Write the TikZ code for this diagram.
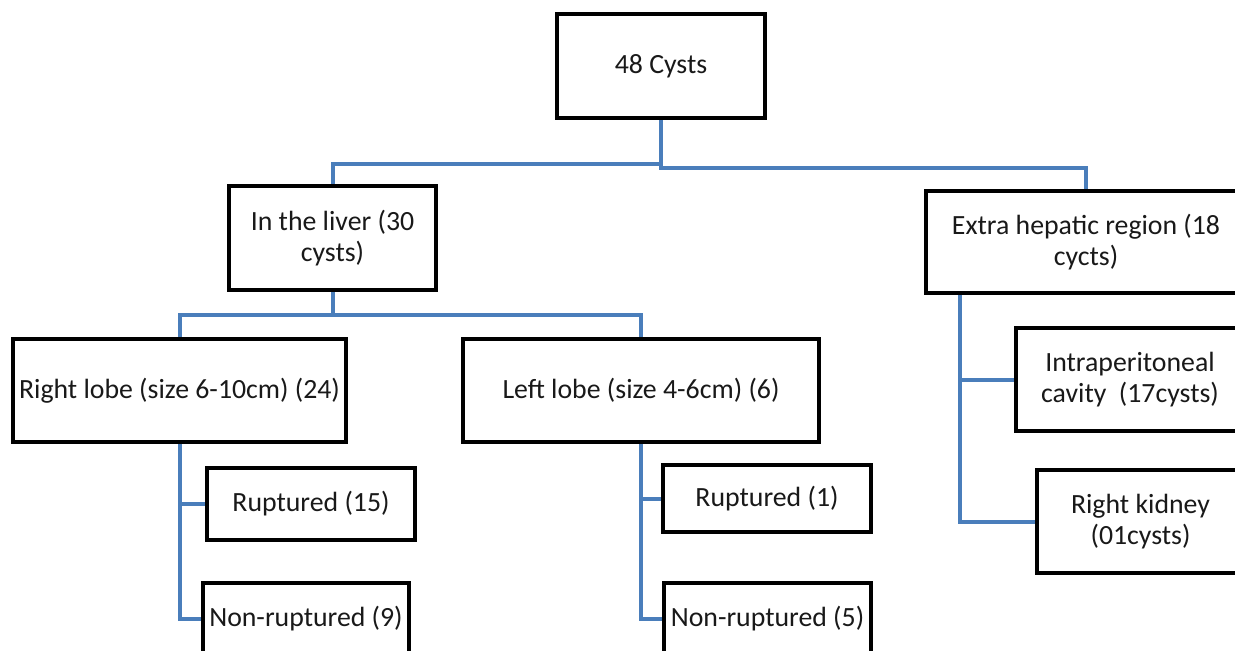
\documentclass[tikz,border=0pt]{standalone}
\usepackage{fontspec}
\setmainfont{Carlito}
\usetikzlibrary{backgrounds}
\definecolor{connblue}{HTML}{4A7EBB}
\begin{document}
\begin{tikzpicture}[x=0.5pt,y=-0.5pt,
  box/.style={draw=black,line width=2pt,fill=white,inner sep=0pt,align=center,
    text=black!90,font=\fontsize{13.9pt}{15.5pt}\selectfont},
  conn/.style={draw=connblue,line width=2pt}]
\useasboundingbox (0,0) rectangle (1235,650);
\clip (0,0) rectangle (1235,650);
% nodes
\node[box,minimum width=104pt,minimum height=52pt] (top) at (661,66) {48 Cysts};
\node[box,minimum width=103.5pt,minimum height=52pt] (liver) at (332.5,238) {In the liver (30\\cysts)};
\node[box,minimum width=160pt,minimum height=51pt] (extra) at (1086,242) {Extra hepatic region (18\\cycts)};
\node[box,minimum width=166.5pt,minimum height=51.5pt] (rl) at (179.5,390.5) {Right lobe (size 6-10cm) (24)};
\node[box,minimum width=178pt,minimum height=51.5pt] (ll) at (641,390.5) {Left lobe (size 4-6cm) (6)};
\node[box,minimum width=104pt,minimum height=36pt] (r15) at (311,504) {Ruptured (15)};
\node[box,minimum width=103pt,minimum height=36pt] (n9) at (306,619) {Non-ruptured (9)};
\node[box,minimum width=104pt,minimum height=33.5pt] (r1) at (767,498.5) {Ruptured (1)};
\node[box,minimum width=103.5pt,minimum height=36pt] (n5) at (767.5,619) {Non-ruptured (5)};
\node[box,minimum width=114pt,minimum height=51.5pt] (ip) at (1130,379.5) {Intraperitoneal\\cavity\ \ (17cysts)};
\node[box,minimum width=103.5pt,minimum height=51.5pt] (rk) at (1140.5,521.5) {Right kidney\\(01cysts)};
% junction coordinates
\coordinate (j1) at (0,164);
\coordinate (j2) at (0,168);
\coordinate (j3) at (0,315);
\coordinate (ejx) at (960,0);
% connectors (behind boxes)
\begin{scope}[on background layer]
\draw[conn] (top.south) -- (top.south |- j1) -| (liver.north);
\draw[conn] (top.south) -- (top.south |- j2) -| (extra.north);
\draw[conn] (liver.south) -- (liver.south |- j3) -| (rl.north);
\draw[conn] (liver.south) -- (liver.south |- j3) -| (ll.north);
\draw[conn] (rl.south) |- (r15.west);
\draw[conn] (rl.south) |- (n9.west);
\draw[conn] (ll.south) |- (r1.west);
\draw[conn] (ll.south) |- (n5.west);
\draw[conn] (extra.south -| ejx) |- (ip.west);
\draw[conn] (extra.south -| ejx) |- (rk.west);
\end{scope}
\end{tikzpicture}
\end{document}
